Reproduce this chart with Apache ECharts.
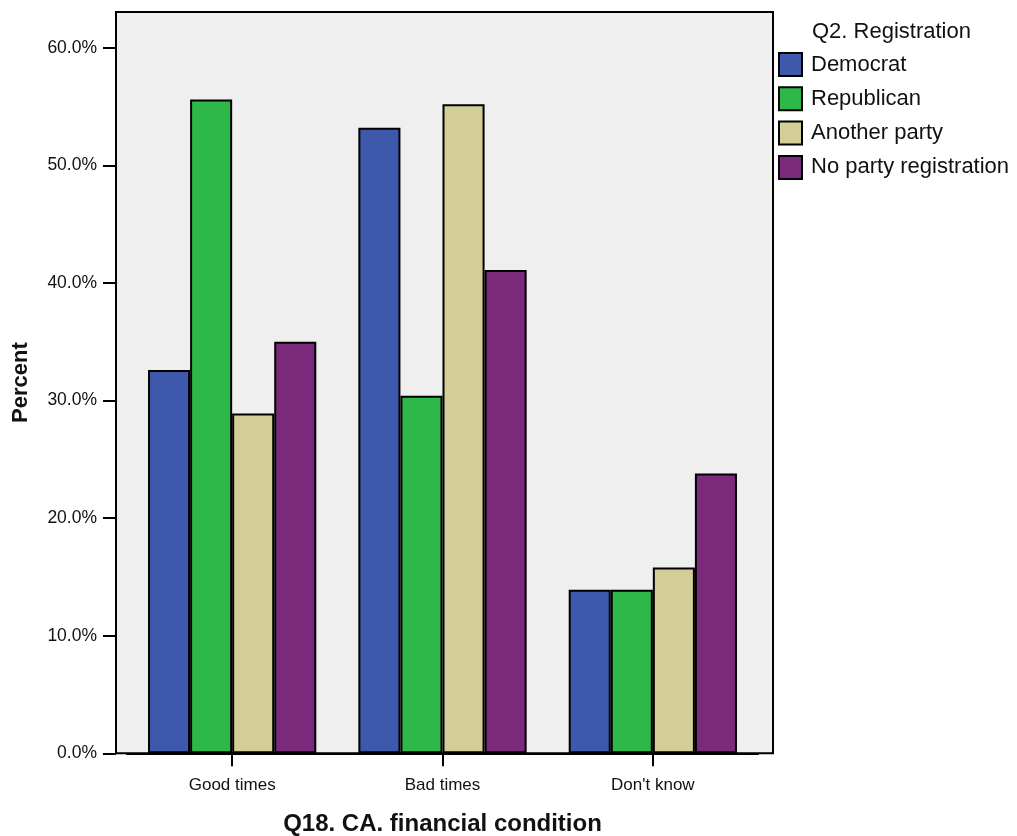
<!DOCTYPE html>
<html><head><meta charset="utf-8">
<script src="https://cdn.jsdelivr.net/npm/echarts@6/dist/echarts.min.js"></script>
<style>html,body{margin:0;padding:0;background:#fff}#c{width:1017px;height:836px}</style>
</head><body><div id="c"></div>
<script>
const categories = ['Good times', 'Bad times', "Don't know"];
const seriesNames = ['Democrat', 'Republican', 'Another party', 'No party registration'];
const democrat = [32.6, 53.2, 13.9];
const republican = [55.6, 30.4, 13.9];
const anotherParty = [28.9, 55.2, 15.8];
const noParty = [35.0, 41.1, 23.8];
const yTicks = [0, 10, 20, 30, 40, 50, 60];
const colors = ['#3E58AC', '#2FB84A', '#D3CE97', '#7B2A7B'];
const values = [democrat, republican, anotherParty, noParty];
const font = 'Liberation Sans, Arial, sans-serif';
const yMax = 63.04;

const chart = echarts.init(document.getElementById('c'));
chart.setOption({
  animation: false,
  backgroundColor: '#fff',
  textStyle: { fontFamily: font },
  title: {
    text: 'Q2. Registration', left: 812, top: 21, padding: 0,
    textStyle: { fontFamily: font, fontSize: 22, fontWeight: 'normal', color: '#111' }
  },
  legend: {
    orient: 'vertical', left: 778, top: 52, padding: 0, itemWidth: 23, itemHeight: 23, itemGap: 9.3,
    data: seriesNames, icon: 'rect',
    textStyle: { fontFamily: font, fontSize: 22, lineHeight: 24, color: '#111', padding: [0, 0, 0, 4] },
    itemStyle: { borderColor: '#000', borderWidth: 2 }
  },
  grid: [
    { left: 116, top: 12, width: 657, height: 741.3, show: true, outerBoundsMode: 'none', containLabel: false,
      backgroundColor: '#EFEFEF', borderColor: '#000', borderWidth: 2 },
    { left: 127, top: 12, width: 631, height: 741.3, show: false, outerBoundsMode: 'none', containLabel: false }
  ],
  xAxis: [
    { gridIndex: 0, type: 'category', data: categories, show: false },
    {
      gridIndex: 1, type: 'category', data: categories,
      name: 'Q18. CA. financial condition', nameLocation: 'middle', nameGap: 59,
      nameTextStyle: { fontFamily: font, fontSize: 24, fontWeight: 'bold', color: '#111' },
      axisLine: { show: true, lineStyle: { color: '#000', width: 2 } },
      axisTick: { show: true, alignWithLabel: true, length: 13, lineStyle: { color: '#000', width: 2 } },
      axisLabel: { show: true, fontFamily: font, fontSize: 17, color: '#111', margin: 24 }
    }
  ],
  yAxis: [
    {
      gridIndex: 0, type: 'value', min: 0, max: yMax, interval: 10,
      name: 'Percent', nameLocation: 'middle', nameGap: 84, nameRotate: 90,
      nameTextStyle: { fontFamily: font, fontSize: 22, fontWeight: 'bold', color: '#111' },
      splitLine: { show: false },
      axisLine: { show: true, lineStyle: { color: '#000', width: 2 } },
      axisTick: { show: true, length: 13, customValues: yTicks, lineStyle: { color: '#000', width: 2 } },
      axisLabel: { fontFamily: font, fontSize: 17.5, color: '#111', margin: 19, customValues: yTicks,
        formatter: v => v.toFixed(1) + '%' }
    },
    { gridIndex: 1, type: 'value', min: 0, max: yMax, show: false, splitLine: { show: false } }
  ],
  series: seriesNames.map((n, i) => ({
    name: n, type: 'bar', xAxisIndex: 1, yAxisIndex: 1, data: values[i], barGap: '0%', barCategoryGap: '20%',
    itemStyle: { color: colors[i], borderColor: '#000', borderWidth: 2 }
  }))
});
</script></body></html>
